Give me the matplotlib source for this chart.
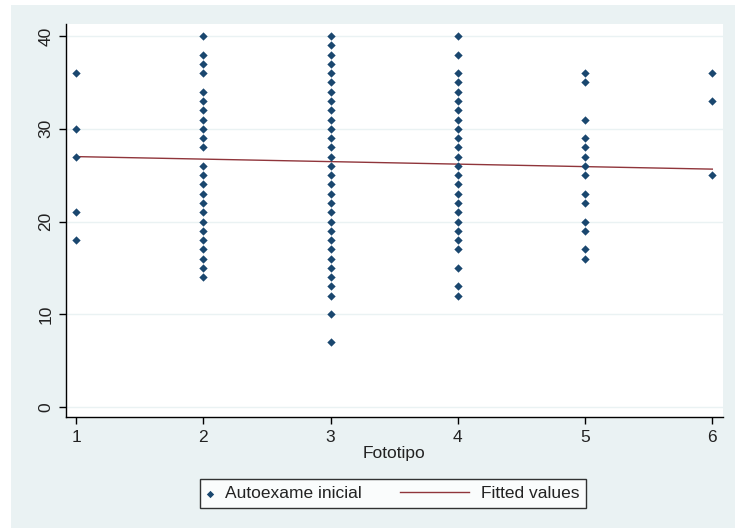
import numpy as np
import matplotlib.pyplot as plt
from matplotlib.patches import Rectangle
from matplotlib.lines import Line2D
from matplotlib.legend_handler import HandlerLine2D

plt.rcParams['font.family'] = ['Liberation Sans', 'DejaVu Sans']

# Autoexame inicial scores grouped by Fototipo
fototipo = [1, 2, 3, 4, 5, 6]
autoexame = {
    1: [36, 30, 27, 21, 18],
    2: [40, 38, 37, 36, 34, 33, 32, 31, 30, 29, 28, 26, 25, 24, 23, 22,
        21, 20, 19, 18, 17, 16, 15, 14],
    3: [40, 39, 38, 37, 36, 35, 34, 33, 32, 31, 30, 29, 28, 27, 26, 25,
        24, 23, 22, 21, 20, 19, 18, 17, 16, 15, 14, 13, 12, 10, 7],
    4: [40, 38, 36, 35, 34, 33, 32, 31, 30, 29, 28, 27, 26, 25, 24, 23,
        22, 21, 20, 19, 18, 17, 15, 13, 12],
    5: [36, 35, 31, 29, 28, 27, 26, 25, 23, 22, 20, 19, 17, 16],
    6: [36, 33, 25],
}
# fitted values of the linear regression at each fototipo
fitted = [27.0, 26.73, 26.46, 26.19, 25.92, 25.65]
y_ticks = [0, 10, 20, 30, 40]

x = np.concatenate([[k] * len(autoexame[k]) for k in fototipo])
y = np.concatenate([autoexame[k] for k in fototipo])

navy = '#1a476f'
maroon = '#90353b'
bg = '#eaf2f3'
fs = 12.5


class LongLine(HandlerLine2D):
    # line sample drawn leftwards from the end of a narrow handle box
    def create_artists(self, legend, orig_handle, xdescent, ydescent,
                       width, height, fontsize, trans):
        yc = height / 2 - ydescent
        line = Line2D([width - xdescent - 49, width - xdescent], [yc, yc],
                      color=orig_handle.get_color(), lw=orig_handle.get_linewidth())
        line.set_transform(trans)
        return [line]


fig = plt.figure(figsize=(7.35, 5.28), dpi=100, facecolor='white')
fig.patches.append(Rectangle((11 / 735, 0), 1, 1 - 5 / 528, transform=fig.transFigure,
                             facecolor=bg, edgecolor='none', zorder=-10))

ax = fig.add_axes([66 / 735, 1 - 417 / 528, (723 - 66) / 735, (417 - 24) / 528])
ax.set_facecolor('white')

for t in y_ticks:
    ax.axhline(t, color=bg, lw=1.0, zorder=0)

pts = ax.scatter(x, y, marker='D', s=18, color=navy, linewidths=0, zorder=3,
                 label='Autoexame inicial')
fit_line, = ax.plot(fototipo, fitted, color=maroon, lw=1.0, zorder=2, label='Fitted values')

ax.set_xlim(0.921, 6.084)
ax.set_ylim(-1.08, 41.3)
ax.set_xticks(fototipo)
ax.set_yticks(y_ticks)
ax.tick_params(axis='both', direction='out', length=5, width=1, color='black',
               labelsize=fs, labelcolor='#222222', pad=4)
for lab in ax.get_yticklabels():
    lab.set_rotation(90)
    lab.set_va('center')

for s in ['top', 'right']:
    ax.spines[s].set_visible(False)
for s in ['left', 'bottom']:
    ax.spines[s].set_color('black')
    ax.spines[s].set_linewidth(1)

ax.set_xlabel('Fototipo', fontsize=fs, color='#222222', labelpad=1)

leg = fig.legend([pts, fit_line], ['Autoexame inicial', 'Fitted values'],
                 loc='center', bbox_to_anchor=(393 / 735, 1 - 493.5 / 528),
                 ncol=2, frameon=True, fancybox=False, edgecolor='black',
                 fontsize=fs, columnspacing=5.8, handlelength=0.35, handletextpad=0.7,
                 borderpad=0.4, handler_map={Line2D: LongLine()})
leg.get_frame().set_linewidth(1)
leg.legend_handles[0].set_sizes([14])
for t in leg.get_texts():
    t.set_color('#222222')

fig.savefig('out.png', dpi=100)
